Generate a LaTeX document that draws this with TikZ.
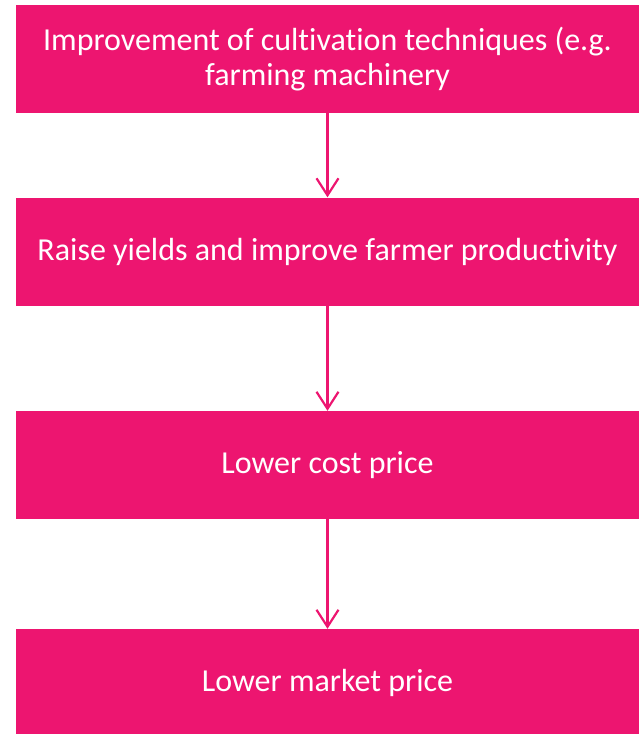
\documentclass[tikz,border=0pt]{standalone}
\usepackage{fontspec}
\setmainfont[Ligatures=NoCommon]{Carlito}
\usetikzlibrary{arrows.meta}
\definecolor{hongse}{RGB}{237,21,112}

\begin{document}
\begin{tikzpicture}[x=1pt,y=-1pt,
	kuang/.style={fill=hongse, text=white, minimum width=623pt, minimum height=108pt,
		inner sep=0pt, align=center, font=\fontsize{32}{35}\selectfont},
	jiantou/.style={draw=hongse, line width=2.2pt,
		-{Straight Barb[length=17pt,width=22pt]}}]
	
	% 画布范围
	\useasboundingbox (0,0) rectangle (639,734);
	
	% 四个方框
	\node[kuang] (gaijin) at (327.5,59) {Improvement of cultivation techniques (e.g.\\farming machinery};
	\node[kuang] (chanliang) at (327.5,251.5) {Raise yields and improve farmer productivity};
	\node[kuang] (chengben) at (327.5,465) {Lower cost price};
	\node[kuang] (shijia) at (327.5,683) {Lower market price};
	
	% 箭头
	\draw[jiantou] (gaijin) -- (chanliang);
	\draw[jiantou] (chanliang) -- (chengben);
	\draw[jiantou] (chengben) -- (shijia);
	
\end{tikzpicture}
\end{document}
